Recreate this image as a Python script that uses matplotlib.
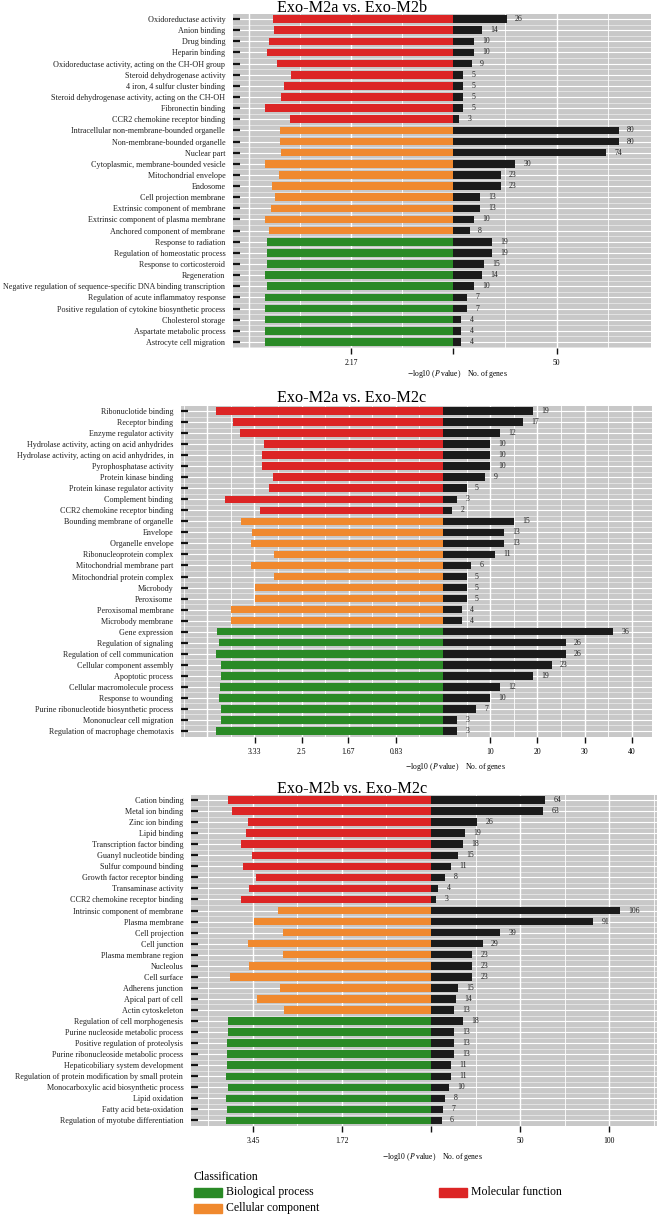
import numpy as np
import matplotlib.pyplot as plt
from matplotlib.patches import Rectangle

plt.rcParams['font.family'] = ['Liberation Serif', 'DejaVu Serif']
plt.rcParams['mathtext.fontset'] = 'stix'

W, H = 657, 1215

colors = {'BP': '#2A8A26', 'CC': '#F0892E', 'MF': '#DC2525'}
gray = '#C8C8C8'

cls = ['MF'] * 10 + ['CC'] * 10 + ['BP'] * 10

# Exo-M2a vs. Exo-M2b
terms1 = ['Oxidoreductase activity', 'Anion binding', 'Drug binding', 'Heparin binding',
          'Oxidoreductase activity, acting on the CH-OH group', 'Steroid dehydrogenase activity',
          '4 iron, 4 sulfur cluster binding', 'Steroid dehydrogenase activity, acting on the CH-OH',
          'Fibronectin binding', 'CCR2 chemokine receptor binding',
          'Intracellular non-membrane-bounded organelle', 'Non-membrane-bounded organelle',
          'Nuclear part', 'Cytoplasmic, membrane-bounded vesicle', 'Mitochondrial envelope',
          'Endosome', 'Cell projection membrane', 'Extrinsic component of membrane',
          'Extrinsic component of plasma membrane', 'Anchored component of membrane',
          'Response to radiation', 'Regulation of homeostatic process', 'Response to corticosteroid',
          'Regeneration', 'Negative regulation of sequence-specific DNA binding transcription',
          'Regulation of acute inflammatoy response', 'Positive regulation of cytokine biosynthetic process',
          'Cholesterol storage', 'Aspartate metabolic process', 'Astrocyte cell migration']
pval1 = [3.83, 3.81, 3.91, 3.96, 3.74, 3.45, 3.60, 3.67, 3.99, 3.47,
         3.68, 3.68, 3.67, 4.00, 3.70, 3.86, 3.79, 3.88, 4.00, 3.91,
         3.96, 3.96, 3.96, 4.00, 3.96, 4.00, 4.00, 4.00, 3.99, 3.99]
genes1 = [26, 14, 10, 10, 9, 5, 5, 5, 5, 3,
          80, 80, 74, 30, 23, 23, 13, 13, 10, 8,
          19, 19, 15, 14, 10, 7, 7, 4, 4, 4]

# Exo-M2a vs. Exo-M2c
terms2 = ['Ribonuclotide binding', 'Receptor binding', 'Enzyme regulator activity',
          'Hydrolase activity, acting on acid anhydrides', 'Hydrolase activity, acting on acid anhydrides, in',
          'Pyrophosphatase activity', 'Protein kinase binding', 'Protein kinase regulator activity',
          'Complement binding', 'CCR2 chemokine receptor binding',
          'Bounding membrane of organelle', 'Envelope', 'Organelle envelope', 'Ribonucleoprotein complex',
          'Mitochondrial membrane part', 'Mitochondrial protein complex', 'Microbody', 'Peroxisome',
          'Peroxisomal membrane', 'Microbody membrane',
          'Gene expression', 'Regulation of signaling', 'Regulation of cell communication',
          'Cellular component assembly', 'Apoptotic process', 'Cellular macromolecule process',
          'Response to wounding', 'Purine ribonucleotide biosynthetic process',
          'Mononuclear cell migration', 'Regulation of macrophage chemotaxis']
pval2 = [4.01, 3.71, 3.59, 3.17, 3.19, 3.20, 3.01, 3.07, 3.85, 3.23,
         3.57, 3.37, 3.39, 2.99, 3.39, 2.99, 3.32, 3.32, 3.75, 3.75,
         4.00, 3.95, 4.01, 3.93, 3.93, 3.94, 3.96, 3.93, 3.93, 4.01]
genes2 = [19, 17, 12, 10, 10, 10, 9, 5, 3, 2,
          15, 13, 13, 11, 6, 5, 5, 5, 4, 4,
          36, 26, 26, 23, 19, 12, 10, 7, 3, 3]

# Exo-M2b vs. Exo-M2c
terms3 = ['Cation binding', 'Metal ion binding', 'Zinc ion binding', 'Lipid binding',
          'Transcription factor binding', 'Guanyl nucleotide binding', 'Sulfur compound binding',
          'Growth factor receptor binding', 'Transaminase activity', 'CCR2 chemokine receptor binding',
          'Intrinsic component of membrane', 'Plasma membrane', 'Cell projection', 'Cell junction',
          'Plasma membrane region', 'Nucleolus', 'Cell surface', 'Adherens junction',
          'Apical part of cell', 'Actin cytoskeleton',
          'Regulation of cell morphogenesis', 'Purine nucleoside metabolic process',
          'Positive regulation of proteolysis', 'Purine ribonucleoside metabolic process',
          'Hepaticobiliary system development', 'Regulation of protein modification by small protein',
          'Monocarboxylic acid biosynthetic process', 'Lipid oxidation', 'Fatty acid beta-oxidation',
          'Regulation of myotube differentiation']
pval3 = [3.94, 3.85, 3.55, 3.59, 3.69, 3.47, 3.64, 3.39, 3.53, 3.68,
         2.97, 3.43, 2.87, 3.55, 2.87, 3.53, 3.90, 2.93, 3.38, 2.85,
         3.93, 3.93, 3.95, 3.95, 3.95, 3.97, 3.93, 3.97, 3.96, 3.97]
genes3 = [64, 63, 26, 19, 18, 15, 11, 8, 4, 3,
          106, 91, 39, 29, 23, 23, 23, 15, 14, 13,
          18, 13, 13, 13, 11, 11, 10, 8, 7, 6]


def add_ax(fig, x0, x1, y0, y1):
    return fig.add_axes([x0 / W, 1 - y1 / H, (x1 - x0) / W, (y1 - y0) / H])


def draw_panel(fig, box, title, terms, pvals, genes, lmax, rmax, lstep, llab, rstep, rlab, zero_tick, xlab_x):
    xl, xc, xr, yt, yb = box
    n = len(terms)
    y = np.arange(n)
    axl = add_ax(fig, xl, xc, yt, yb)
    axr = add_ax(fig, xc, xr, yt, yb)
    for ax in (axl, axr):
        ax.set_facecolor(gray)
        ax.set_ylim(n - 0.5, -0.5)
        for s in ax.spines.values():
            s.set_visible(False)
        ax.set_axisbelow(True)
        for yy in y:
            ax.axhline(yy, color='white', lw=0.8, zorder=0)
            ax.axhline(yy + 0.5, color='white', lw=0.5, alpha=0.7, zorder=0)
    # vertical grid lines
    k = 0.5
    while k * lstep < lmax:
        axl.axvline(k * lstep, color='white', lw=1.0 if k % 1 == 0 else 0.6, zorder=0)
        k += 0.5
    k = 0.5
    while k * rstep < rmax:
        axr.axvline(k * rstep, color='white', lw=1.0 if k % 1 == 0 else 0.6, zorder=0)
        k += 0.5

    axl.barh(y, pvals, height=0.68, color=[colors[c] for c in cls], zorder=2)
    axl.set_xlim(lmax, 0)
    bars = axr.barh(y, genes, height=0.68, color='#1B1B1B', zorder=2)
    axr.bar_label(bars, padding=6, fontsize=5.6, color='#222222')
    axr.set_xlim(0, rmax)

    axl.set_yticks(y)
    axl.set_yticklabels(terms, fontsize=5.88, color='#222222')
    axl.tick_params(axis='y', direction='in', length=5, width=1.6, pad=5.5, color='#111111')
    axr.set_yticks([])

    lt = [float(v) for v in llab]
    axl.set_xticks(lt)
    axl.set_xticklabels(llab, fontsize=5.5)
    rt = list(rlab)
    rl = [str(v) for v in rlab]
    if zero_tick:
        rt = [0] + rt
        rl = [''] + rl
    axr.set_xticks(rt)
    axr.set_xticklabels(rl, fontsize=5.5)
    for ax in (axl, axr):
        ax.tick_params(axis='x', direction='out', length=4, width=1.0, pad=4, color='#111111')

    fig.text(352 / W, 1 - title[1] / H, title[0], ha='center', va='baseline', fontsize=11.6)
    fig.text(xlab_x[0] / W, 1 - xlab_x[1] / H, r'$-$log10 ($P$ value)    No. of genes',
             ha='center', va='center', fontsize=5.5)


fig = plt.figure(figsize=(W / 100, H / 100), dpi=100)

draw_panel(fig, (233, 453, 651, 13.5, 347.5), ('Exo-M2a vs. Exo-M2b', 12),
           terms1, pval1, genes1, 220 / 47.0, 198 / 2.07, 2.17, ['2.17'], 50, [50], True, (457, 374))
draw_panel(fig, (181, 443, 652, 405.5, 736.5), ('Exo-M2a vs. Exo-M2c', 402),
           terms2, pval2, genes2, 262 / 56.6, 209 / 4.72, 0.8333, ['3.33', '2.5', '1.67', '0.83'],
           10, [10, 20, 30, 40], False, (455, 767))
draw_panel(fig, (191, 431, 657, 794.5, 1126), ('Exo-M2b vs. Exo-M2c', 793),
           terms3, pval3, genes3, 240 / 51.6, 226 / 1.78, 1.725, ['3.45', '1.72'], 50, [50, 100], True, (432, 1157))

# legend
fig.text(194 / W, 1 - 1177 / H, 'Classification', ha='left', va='center', fontsize=8.5)
leg = [('Biological process', 'BP', 194, 1192), ('Cellular component', 'CC', 194, 1208),
       ('Molecular function', 'MF', 439, 1192)]
for name, key, lx, ly in leg:
    fig.patches.append(Rectangle((lx / W, 1 - (ly + 4.5) / H), 28 / W, 9 / H,
                                 transform=fig.transFigure, color=colors[key]))
    fig.text((lx + 32) / W, 1 - ly / H, name, ha='left', va='center', fontsize=8.5)

fig.savefig('out.png', dpi=100)
